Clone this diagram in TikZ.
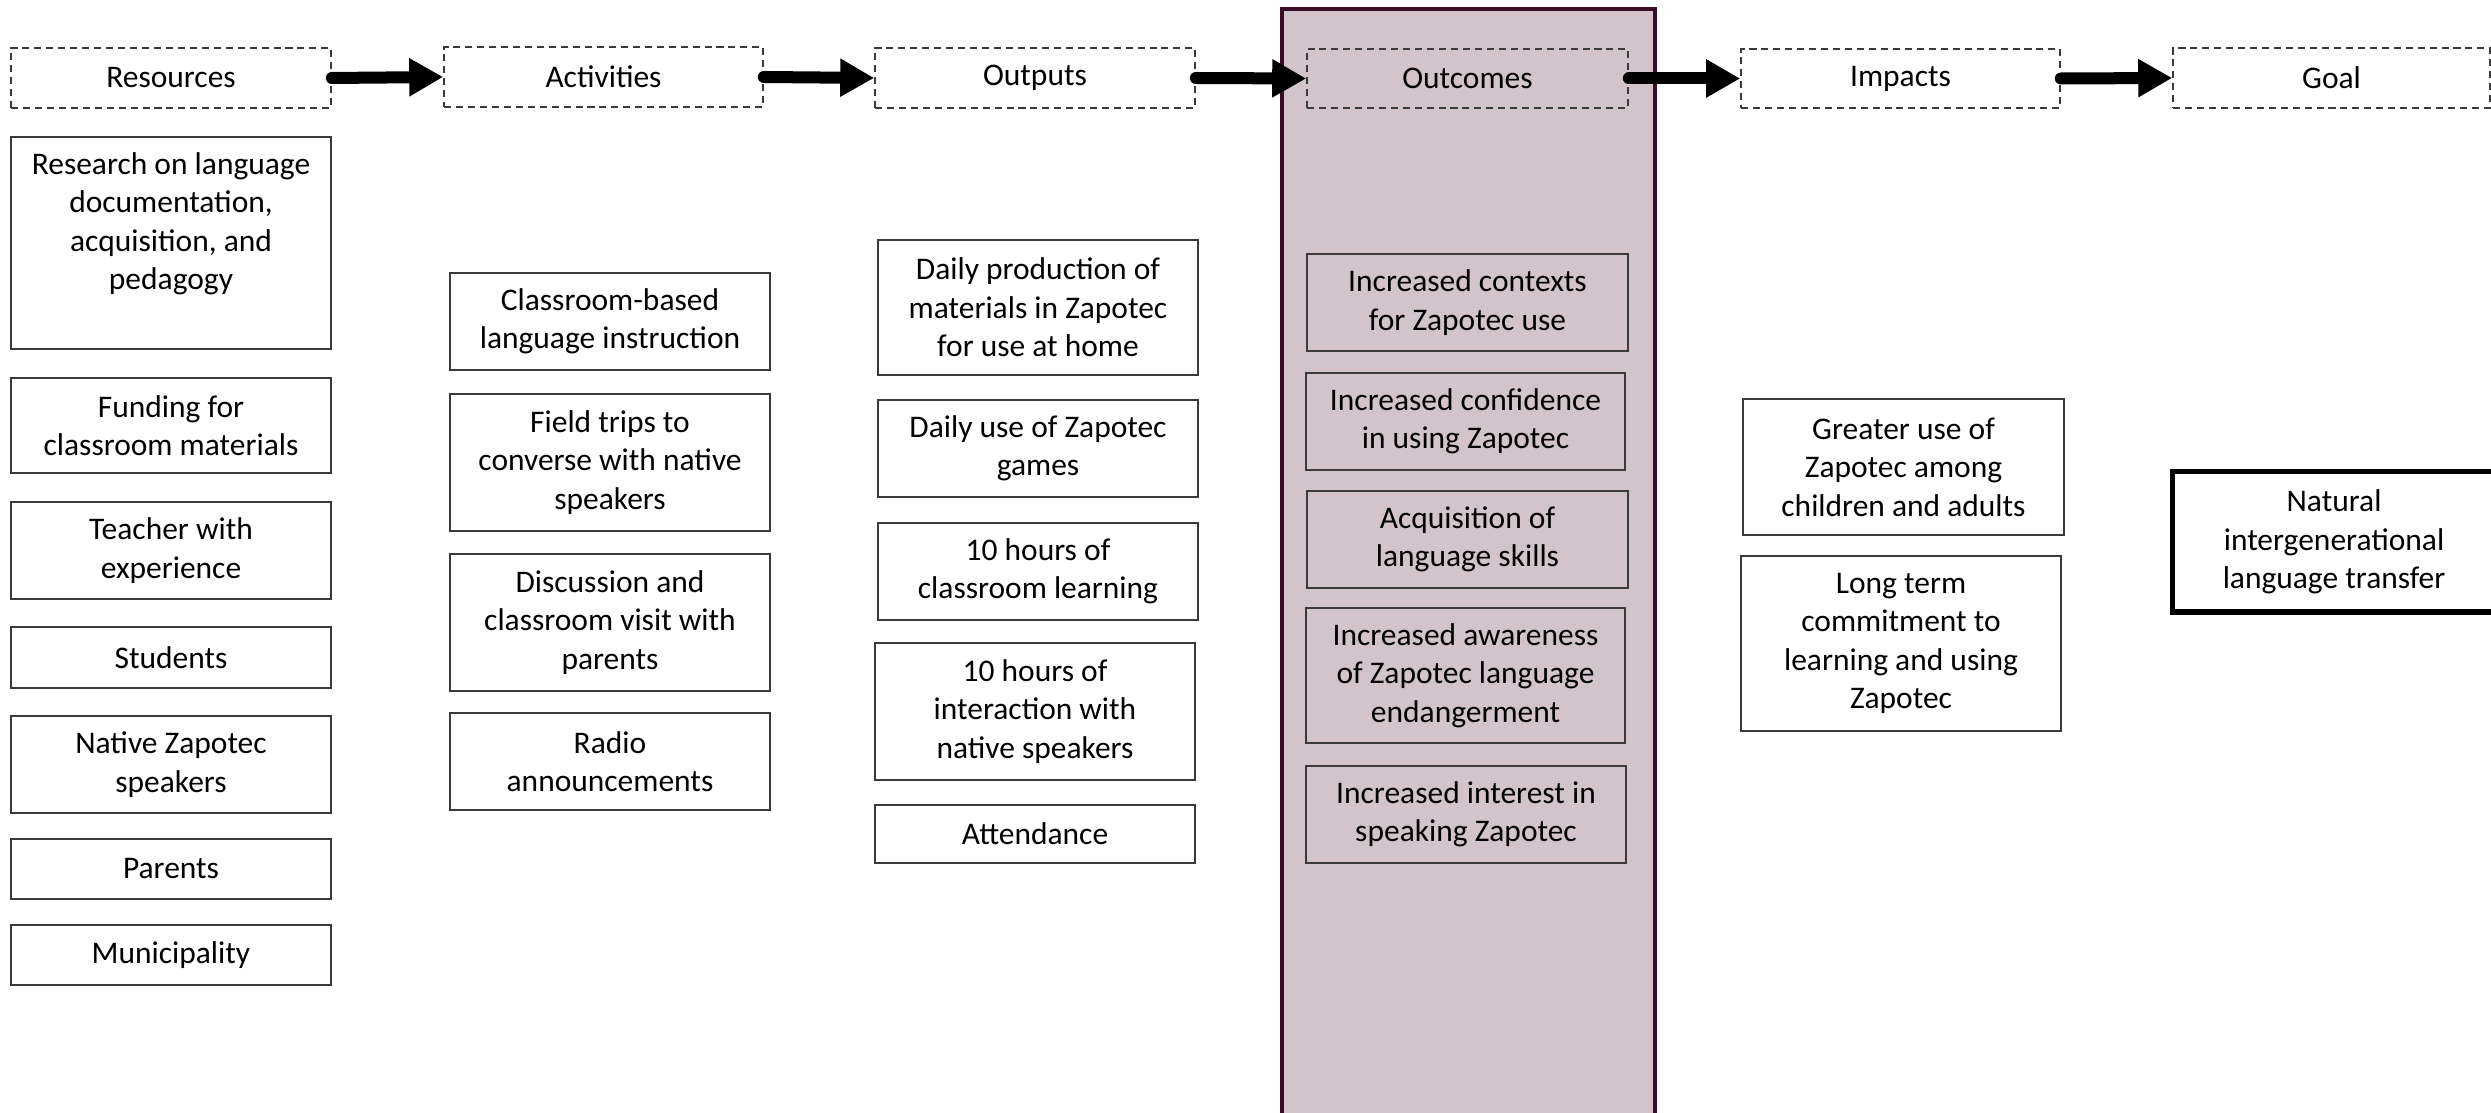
\documentclass[tikz,border=0pt]{standalone}
\usepackage{fontspec}
\setmainfont{Carlito}
\usetikzlibrary{arrows.meta}
\definecolor{outfill}{HTML}{D3C3CB}
\definecolor{outedge}{HTML}{3B0C26}
\definecolor{boxedge}{HTML}{3A3A3A}
\begin{document}
\begin{tikzpicture}[x=0.01cm,y=-0.01cm,
  every node/.style={font=\fontsize{8.95pt}{10.95pt}\selectfont, align=center, text=black, inner sep=0pt},
  sz/.style 2 args={minimum width=#1*0.01cm, minimum height=#2*0.01cm},
  stage/.style={draw=boxedge, line width=0.45pt, dash pattern=on 2pt off 1.4pt, fill=white},
  item/.style={draw=boxedge, line width=0.45pt, fill=white},
  clearitem/.style={item, fill=none},
  goalbox/.style={item, draw=black, line width=0.05cm},
  flow/.style={line width=0.12cm, line cap=round, -{Triangle[length=0.34cm,width=0.36cm]}},
]
\useasboundingbox (0,0) rectangle (2491,1113);
\clip (0,0) rectangle (2491,1113);

% highlighted outcomes column
\draw[fill=outfill, draw=outedge, line width=0.04cm] (1282,9) rectangle (1655,1130);

% stage headers
\node[stage, sz={320}{60}] (hR) at (171,78) {Resources};
\node[stage, sz={319}{60}] (hA) at (603.5,77) {Activities};
\node[stage, sz={320}{60}] (hOp) at (1035,78) {Outputs};
\node[stage, fill=none, sz={321}{59}] (hOc) at (1467.5,78.5) {Outcomes};
\node[stage, sz={319}{59}] (hI) at (1900.5,78.5) {Impacts};
\node[stage, sz={317}{60}] (hG) at (2331.5,78) {Goal};

\draw[flow] (hR.east) -- (hA.west);
\draw[flow] (hA.east) -- (hOp.west);
\draw[flow] (hOp.east) -- (hOc.west);
\draw[flow] (hOc.east) -- (hI.west);
\draw[flow] (hI.east) -- (hG.west);

% resources
\node[item, sz={320}{212}] (r1) at (171,243) {};
\node (r1t) at (171,224) {Research on language\\documentation,\\acquisition, and\\pedagogy};
\node[item, sz={320}{95}] (r2) at (171,425.5) {Funding for\\classroom materials};
\node[item, sz={320}{97}] (r3) at (171,550.5) {Teacher with\\experience};
\node[item, sz={320}{61}] (r4) at (171,657.5) {Students};
\node[item, sz={320}{97}] (r5) at (171,764.5) {Native Zapotec\\speakers};
\node[item, sz={320}{60}] (r6) at (171,869) {Parents};
\node[item, sz={320}{60}] (r7) at (171,955) {Municipality};

% activities
\node[item, sz={320}{97}] (a1) at (610,321.5) {Classroom-based\\language instruction};
\node[item, sz={320}{137}] (a2) at (610,462.5) {Field trips to\\converse with native\\speakers};
\node[item, sz={320}{137}] (a3) at (610,622.5) {Discussion and\\classroom visit with\\parents};
\node[item, sz={320}{97}] (a4) at (610,761.5) {Radio\\announcements};

% outputs
\node[item, sz={320}{135}] (o1) at (1038,307.5) {Daily production of\\materials in Zapotec\\for use at home};
\node[item, sz={320}{97}] (o2) at (1038,448.5) {Daily use of Zapotec\\games};
\node[item, sz={320}{97}] (o3) at (1038,571.5) {10 hours of\\classroom learning};
\node[item, sz={320}{137}] (o4) at (1035,711.5) {10 hours of\\interaction with\\native speakers};
\node[item, sz={320}{58}] (o5) at (1035,834) {Attendance};

% outcomes
\node[clearitem, sz={321}{97}] (c1) at (1467.5,302.5) {Increased contexts\\for Zapotec use};
\node[clearitem, sz={319}{97}] (c2) at (1465.5,421.5) {Increased confidence\\in using Zapotec};
\node[clearitem, sz={321}{97}] (c3) at (1467.5,539.5) {Acquisition of\\language skills};
\node[clearitem, sz={319}{135}] (c4) at (1465.5,675.5) {Increased awareness\\of Zapotec language\\endangerment};
\node[clearitem, sz={320}{97}] (c5) at (1466,814.5) {Increased interest in\\speaking Zapotec};

% impacts
\node[item, sz={321}{136}] (i1) at (1903.5,467) {Greater use of\\Zapotec among\\children and adults};
\node[item, sz={320}{175}] (i2) at (1901,643.5) {Long term\\commitment to\\learning and using\\Zapotec};

% goal
\node[goalbox, sz={324}{140}] (g1) at (2334,542) {Natural\\intergenerational\\language transfer};
\end{tikzpicture}
\end{document}
